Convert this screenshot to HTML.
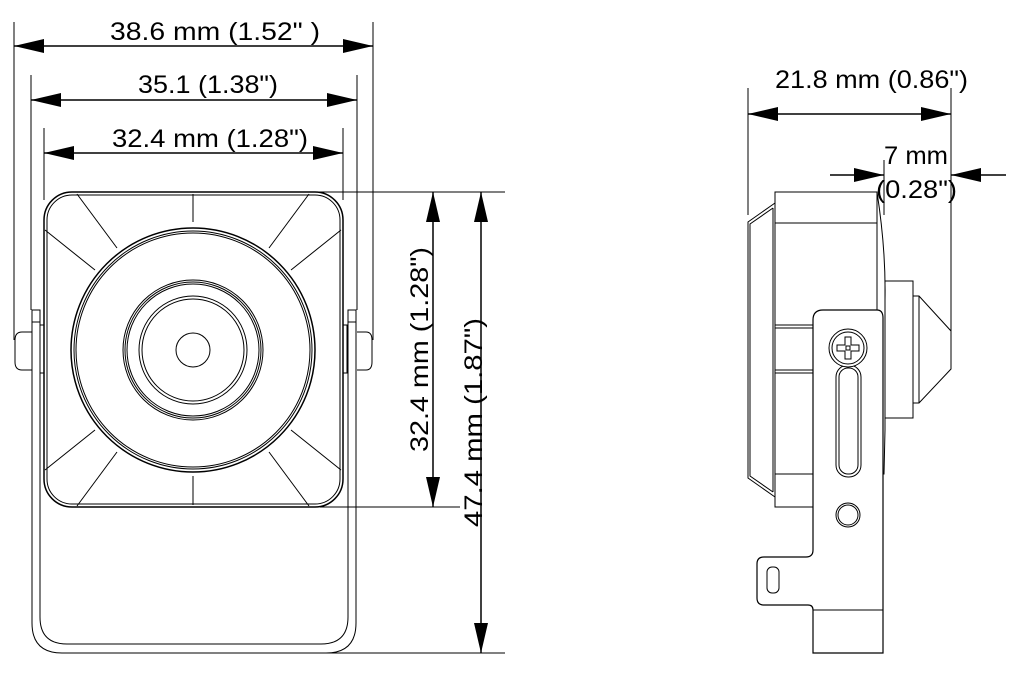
<!DOCTYPE html>
<html><head><meta charset="utf-8"><style>
html,body{margin:0;padding:0;background:#fff;}
svg{display:block;}
text{font-family:"Liberation Sans Narrow","Liberation Sans",sans-serif;font-size:25px;fill:#000;}
</style></head><body>
<svg width="1017" height="676" viewBox="0 0 1017 676" xmlns="http://www.w3.org/2000/svg">
<defs>
<marker id="a" viewBox="0 0 30 14" refX="30" refY="7" markerWidth="30" markerHeight="14" markerUnits="userSpaceOnUse" orient="auto-start-reverse"><path d="M0,0 L30,7 L0,14 Z" fill="#000"/></marker>
</defs>
<g stroke="#000" fill="none" stroke-width="1">
<line x1="14" y1="22" x2="14" y2="340"/>
<line x1="373" y1="22" x2="373" y2="340"/>
<line x1="31" y1="75" x2="31" y2="310"/>
<line x1="357" y1="75" x2="357" y2="310"/>
<line x1="44" y1="128" x2="44" y2="200"/>
<line x1="343" y1="128" x2="343" y2="200"/>
<line x1="310" y1="192" x2="505" y2="192"/>
<line x1="320" y1="507" x2="460" y2="507"/>
<line x1="320" y1="653" x2="505" y2="653"/>
<line x1="14" y1="46" x2="373" y2="46" stroke-width="1.5" marker-start="url(#a)" marker-end="url(#a)"/>
<line x1="31" y1="100" x2="357" y2="100" stroke-width="1.5" marker-start="url(#a)" marker-end="url(#a)"/>
<line x1="44" y1="153" x2="343" y2="153" stroke-width="1.5" marker-start="url(#a)" marker-end="url(#a)"/>
<line x1="433" y1="192" x2="433" y2="507" stroke-width="1.5" marker-start="url(#a)" marker-end="url(#a)"/>
<line x1="481" y1="192" x2="481" y2="653" stroke-width="1.5" marker-start="url(#a)" marker-end="url(#a)"/>
<path d="M32,310 V623 Q32,653 62,653 H326 Q356,653 356,623 V310"/>
<path d="M40,310 V617 Q40,644 67,644 H321 Q348,644 348,617 V310"/>
<rect x="32" y="310" width="8" height="12"/>
<rect x="348" y="310" width="8" height="12"/>
<path d="M32,332 H22 Q15,332 15,340 V362 Q15,370 22,370 H32"/>
<path d="M357,332 H366 Q372,332 372,340 V362 Q372,370 366,370 H357"/>
<rect x="40" y="325" width="4" height="48"/>
<rect x="343" y="325" width="4" height="48"/>
<rect x="44" y="192" width="299" height="315" rx="28" stroke-width="1.5"/>
<rect x="47" y="195" width="293" height="309" rx="25"/>
<line x1="193" y1="194" x2="193" y2="222"/>
<line x1="193" y1="476" x2="193" y2="505"/>
<line x1="77" y1="194" x2="117" y2="248"/>
<line x1="45" y1="230" x2="95" y2="270"/>
<line x1="309" y1="194" x2="269" y2="248"/>
<line x1="341" y1="230" x2="291" y2="270"/>
<line x1="77" y1="506" x2="117" y2="452"/>
<line x1="45" y1="470" x2="95" y2="430"/>
<line x1="309" y1="506" x2="269" y2="452"/>
<line x1="341" y1="470" x2="291" y2="430"/>
<circle cx="193" cy="350" r="122" fill="#fff" stroke-width="1.5"/>
<circle cx="193" cy="350" r="119"/>
<circle cx="193" cy="350" r="117"/>
<circle cx="193" cy="350" r="70"/>
<circle cx="193" cy="350" r="68"/>
<circle cx="193" cy="350" r="66"/>
<circle cx="193" cy="350" r="54"/>
<circle cx="193" cy="350" r="51"/>
<circle cx="193" cy="350" r="17"/>
<line x1="748" y1="88" x2="748" y2="215"/>
<line x1="951" y1="88" x2="951" y2="335"/>
<line x1="884" y1="160" x2="884" y2="215"/>
<line x1="748" y1="114" x2="951" y2="114" stroke-width="1.5" marker-start="url(#a)" marker-end="url(#a)"/>
<line x1="830" y1="175" x2="884" y2="175" stroke-width="1.5" marker-end="url(#a)"/>
<line x1="1006" y1="175" x2="951" y2="175" stroke-width="1.5" marker-end="url(#a)"/>
<path d="M775,192 H877 Q886,250 885,300 V430 L884,474 H877 V507 H775 Z"/>
<line x1="775" y1="223" x2="877" y2="223"/>
<line x1="775" y1="325" x2="813" y2="325"/>
<line x1="775" y1="328" x2="813" y2="328"/>
<line x1="775" y1="370" x2="813" y2="370"/>
<line x1="775" y1="373" x2="813" y2="373"/>
<line x1="775" y1="474" x2="813" y2="474"/>
<path d="M775,203 L748,222 V478 L775,497"/>
<path d="M773,208 L750,224 V476 L773,492"/>
<line x1="773" y1="208" x2="773" y2="492"/>
<line x1="877" y1="192" x2="877" y2="474"/>
<rect x="885" y="281" width="28" height="137"/>
<path d="M913,296 H919 L951,331 V369 L919,403 H913"/>
<line x1="919" y1="296" x2="919" y2="403"/>
<path d="M823,310 H877 Q883,310 883,318 V653 H813 V610 Q813,605 808,605 H764 Q757,605 757,598 V564 Q757,557 764,557 H806 Q813,557 813,550 V320 Q813,310 823,310 Z" fill="#fff" stroke-width="1.2"/>
<rect x="767" y="567" width="12" height="26" rx="5"/>
<line x1="813" y1="610" x2="883" y2="610"/>
<rect x="836" y="365" width="25" height="112" rx="12"/>
<rect x="839" y="368" width="19" height="106" rx="9"/>
<circle cx="848" cy="348" r="19" fill="#fff"/>
<circle cx="848" cy="348" r="16"/>
<path d="M845,337 H851 V345 H859 V351 H851 V359 H845 V351 H837 V345 H845 Z"/>
<rect x="846" y="346" width="4" height="4"/>
<circle cx="848" cy="515" r="12"/>
<circle cx="848" cy="515" r="10"/>
</g>
<text x="110" y="40" textLength="210" lengthAdjust="spacingAndGlyphs">38.6 mm  (1.52" )</text>
<text x="138" y="93" textLength="140" lengthAdjust="spacingAndGlyphs">35.1 (1.38")</text>
<text x="112" y="147" textLength="196" lengthAdjust="spacingAndGlyphs">32.4 mm (1.28")</text>
<text transform="translate(428,452) rotate(-90)" textLength="205" lengthAdjust="spacingAndGlyphs">32.4 mm (1.28")</text>
<text transform="translate(482,527) rotate(-90)" textLength="209" lengthAdjust="spacingAndGlyphs">47.4 mm (1.87")</text>
<text x="775" y="88" textLength="193" lengthAdjust="spacingAndGlyphs">21.8 mm (0.86")</text>
<text x="884" y="164" textLength="64" lengthAdjust="spacingAndGlyphs">7 mm</text>
<text x="876" y="198" textLength="81" lengthAdjust="spacingAndGlyphs">(0.28")</text>
</svg>
</body></html>
